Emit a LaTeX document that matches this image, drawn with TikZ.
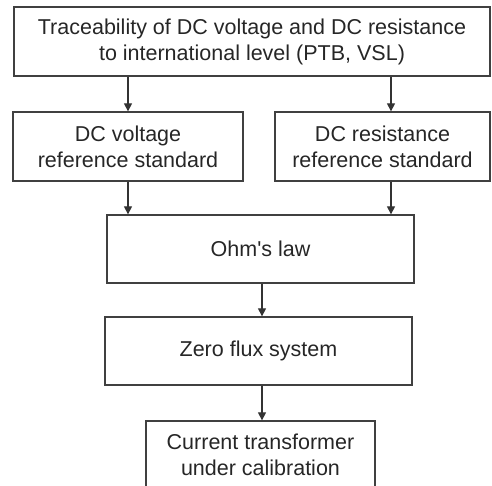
\documentclass[tikz,border=0pt]{standalone}
\usepackage{fontspec}
\setmainfont{Liberation Sans}
\usetikzlibrary{positioning, calc, arrows.meta}

\tikzset{
    blk/.style={draw=black!75, line width=1.3pt, align=center, text=black!85,
        font=\fontsize{21.5}{26}\selectfont, inner sep=0pt},
    link/.style={-{Triangle[length=8pt, width=8pt]}, draw=black!80, line width=1.2pt}
}

\begin{document}
\begin{tikzpicture}[x=1pt, y=-1pt]
    \useasboundingbox (0,0) rectangle (492,486);

    % boxes, top to bottom
    \node[blk, minimum width=476pt, minimum height=69pt] (trace) at (252,41.5)
        {Traceability of DC voltage and DC resistance\\to international level (PTB, VSL)};
    \node[blk, minimum width=230pt, minimum height=69pt] (dcv) at (128,146.5)
        {DC voltage\\reference standard};
    \node[blk, minimum width=215pt, minimum height=69pt] (dcr) at (382.5,146.5)
        {DC resistance\\reference standard};
    \node[blk, minimum width=307pt, minimum height=68pt] (ohm) at (260.5,249)
        {Ohm\textquotesingle s law};
    \node[blk, minimum width=307pt, minimum height=68pt] (zflux) at (258.5,351)
        {Zero flux system};
    \node[blk, minimum width=229pt, minimum height=68pt] (ct) at (260.5,455)
        {Current transformer\\under calibration};

    % arrows
    \draw[link] (trace.south -| dcv.north) -- (dcv.north);
    \draw[link] ([xshift=8.5pt]trace.south -| dcr.north) -- ([xshift=8.5pt]dcr.north);
    \draw[link] (dcv.south) -- (ohm.north -| dcv.south);
    \draw[link] ([xshift=8.5pt]dcr.south) -- ([xshift=8.5pt]ohm.north -| dcr.south);
    \draw[link] ([xshift=1.5pt]ohm.south) -- ([xshift=1.5pt]zflux.north -| ohm.south);
    \draw[link] ([xshift=3.5pt]zflux.south) -- ([xshift=1.5pt]ct.north);
\end{tikzpicture}
\end{document}
